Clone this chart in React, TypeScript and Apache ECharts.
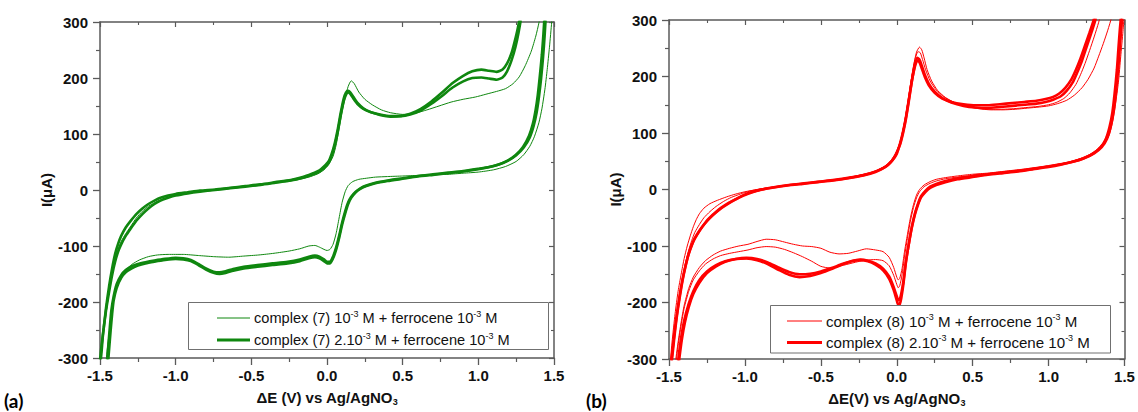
import React, { useEffect, useRef } from "react";
import * as echarts from "echarts";

type Pt = [number, number];

// ---------- tick labels ----------
const X_TICK_LABELS = ["-1.5", "-1.0", "-0.5", "0.0", "0.5", "1.0", "1.5"];
const Y_TICK_LABELS = ["-300", "-200", "-100", "0", "100", "200", "300"];

// ---------- legend / series names ----------
const A_THIN_NAME = "complex (7) 10-3 M + ferrocene 10-3 M";
const A_THICK_NAME = "complex (7) 2.10-3 M + ferrocene 10-3 M";
const B_THIN_NAME = "complex (8) 10-3 M + ferrocene 10-3 M";
const B_THICK_NAME = "complex (8) 2.10-3 M + ferrocene 10-3 M";

// ---------- panel (a) : complex (7) ----------
const A_THIN_1: Pt[] = [
  [-1.51, -360], [-1.49, -280], [-1.47, -240], [-1.45, -200], [-1.43, -165], [-1.41, -135], [-1.39, -112], [-1.36, -92],
  [-1.33, -78], [-1.30, -66], [-1.26, -50], [-1.22, -38], [-1.18, -29], [-1.12, -20], [-1.05, -13], [-1.00, -10],
  [-0.90, -5], [-0.80, -2], [-0.70, 1], [-0.60, 4], [-0.50, 7], [-0.40, 11], [-0.30, 14], [-0.20, 18], [-0.12, 23],
  [-0.06, 29], [-0.02, 36], [0.01, 45], [0.04, 60], [0.06, 80], [0.08, 110], [0.10, 140], [0.12, 165], [0.14, 185],
  [0.16, 195], [0.18, 190], [0.21, 175], [0.25, 162], [0.30, 152], [0.36, 143], [0.42, 138], [0.50, 135], [0.58, 137],
  [0.66, 143], [0.74, 150], [0.82, 157], [0.90, 162], [0.98, 166], [1.05, 171], [1.12, 176], [1.18, 181], [1.23, 190],
  [1.27, 202], [1.31, 222], [1.35, 248], [1.38, 275], [1.40, 298], [1.43, 340], [1.45, 360],
  [1.51, 360], [1.50, 340], [1.485, 300], [1.47, 255], [1.455, 215], [1.44, 180], [1.42, 145], [1.40, 120], [1.37, 95],
  [1.34, 78], [1.30, 63], [1.25, 51], [1.18, 42], [1.10, 36], [1.00, 32], [0.90, 30], [0.80, 28], [0.70, 27], [0.60, 26],
  [0.50, 25], [0.40, 24], [0.32, 23], [0.26, 21], [0.21, 19], [0.17, 15], [0.14, 8], [0.12, -3], [0.10, -22], [0.08, -50],
  [0.06, -78], [0.04, -97], [0.02, -106], [0.00, -108], [-0.02, -106], [-0.05, -102], [-0.08, -99], [-0.12, -100],
  [-0.18, -105], [-0.25, -109], [-0.35, -113], [-0.45, -116], [-0.55, -118], [-0.65, -120], [-0.75, -119], [-0.85, -117],
  [-0.95, -115], [-1.05, -115], [-1.12, -116], [-1.18, -119], [-1.24, -125], [-1.29, -133], [-1.33, -143], [-1.36, -155],
  [-1.39, -175], [-1.41, -198], [-1.43, -235], [-1.45, -280], [-1.465, -320], [-1.50, -390], [-1.51, -360],
];

const A_THICK_1: Pt[] = [
  [-1.53, -420], [-1.50, -318], [-1.49, -290], [-1.48, -258], [-1.46, -215], [-1.44, -182], [-1.42, -152], [-1.40, -128],
  [-1.38, -110], [-1.36, -97], [-1.33, -82], [-1.30, -70], [-1.26, -55], [-1.22, -43], [-1.18, -33], [-1.14, -25],
  [-1.10, -19], [-1.05, -14], [-1.00, -10], [-0.92, -6], [-0.84, -3], [-0.74, 0], [-0.64, 3], [-0.54, 6], [-0.44, 9],
  [-0.34, 13], [-0.24, 17], [-0.16, 22], [-0.10, 27], [-0.05, 33], [-0.02, 39], [0.01, 48], [0.03, 60], [0.05, 78],
  [0.07, 102], [0.09, 132], [0.11, 158], [0.125, 170], [0.14, 174], [0.155, 171], [0.175, 163], [0.20, 154], [0.24, 145],
  [0.29, 139], [0.35, 135], [0.42, 132], [0.49, 132], [0.55, 135], [0.62, 142], [0.69, 154], [0.76, 168], [0.83, 183],
  [0.90, 194], [0.96, 200], [1.02, 201], [1.07, 199], [1.12, 197], [1.16, 201], [1.19, 212], [1.22, 232], [1.245, 255],
  [1.265, 280], [1.285, 312], [1.31, 370],
  [1.46, 370], [1.448, 320], [1.438, 275], [1.428, 238], [1.415, 200], [1.40, 165], [1.385, 138], [1.365, 114], [1.34, 94],
  [1.30, 76], [1.25, 62], [1.20, 53], [1.14, 46], [1.07, 41], [1.00, 38], [0.90, 34], [0.80, 31], [0.70, 28], [0.60, 25],
  [0.50, 21], [0.40, 17], [0.32, 13], [0.26, 8], [0.22, 3], [0.19, -3], [0.16, -12], [0.14, -22], [0.12, -38], [0.10, -58],
  [0.08, -82], [0.06, -103], [0.04, -119], [0.02, -128], [0.00, -128], [-0.02, -124], [-0.05, -119], [-0.08, -117],
  [-0.12, -119], [-0.18, -124], [-0.26, -128], [-0.36, -131], [-0.46, -134], [-0.55, -137], [-0.62, -141], [-0.67, -145],
  [-0.71, -147], [-0.75, -146], [-0.80, -140], [-0.85, -132], [-0.90, -125], [-0.95, -122], [-1.00, -121], [-1.07, -123],
  [-1.14, -126], [-1.20, -129], [-1.25, -132], [-1.29, -136], [-1.33, -143], [-1.36, -152], [-1.39, -168], [-1.41, -190],
  [-1.425, -215], [-1.435, -245], [-1.445, -278], [-1.455, -310], [-1.48, -380], [-1.53, -420],
];

const A_THICK_2: Pt[] = [
  [-1.53, -400], [-1.50, -305], [-1.49, -278], [-1.475, -245], [-1.46, -210], [-1.44, -172], [-1.42, -140], [-1.40, -114],
  [-1.38, -96], [-1.36, -82], [-1.33, -67], [-1.30, -56], [-1.26, -43], [-1.22, -33], [-1.18, -25], [-1.14, -19],
  [-1.10, -14], [-1.05, -10], [-1.00, -7], [-0.92, -4], [-0.84, -1], [-0.74, 1], [-0.64, 4], [-0.54, 7], [-0.44, 10],
  [-0.34, 14], [-0.24, 18], [-0.16, 23], [-0.10, 29], [-0.05, 35], [-0.02, 42], [0.01, 51], [0.03, 64], [0.05, 82],
  [0.07, 107], [0.09, 137], [0.11, 163], [0.125, 174], [0.14, 177], [0.155, 174], [0.175, 166], [0.20, 156], [0.24, 146],
  [0.29, 139], [0.35, 134], [0.42, 131], [0.49, 132], [0.55, 136], [0.62, 145], [0.69, 158], [0.76, 174], [0.83, 191],
  [0.90, 204], [0.96, 212], [1.02, 215], [1.07, 213], [1.12, 211], [1.16, 215], [1.19, 226], [1.22, 245], [1.24, 265],
  [1.26, 288], [1.28, 318], [1.30, 370],
  [1.45, 370], [1.44, 322], [1.43, 278], [1.42, 242], [1.407, 205], [1.393, 170], [1.378, 142], [1.36, 118], [1.335, 97],
  [1.295, 77], [1.245, 62], [1.19, 52], [1.13, 45], [1.06, 40], [1.00, 37], [0.90, 33], [0.80, 30], [0.70, 27], [0.60, 24],
  [0.50, 20], [0.40, 16], [0.32, 12], [0.26, 7], [0.22, 2], [0.19, -4], [0.16, -14], [0.14, -25], [0.12, -42], [0.10, -62],
  [0.08, -86], [0.06, -107], [0.04, -122], [0.02, -131], [0.00, -131], [-0.02, -127], [-0.05, -122], [-0.08, -120],
  [-0.12, -122], [-0.18, -127], [-0.26, -131], [-0.36, -134], [-0.46, -137], [-0.55, -140], [-0.62, -144], [-0.67, -148],
  [-0.71, -150], [-0.75, -148], [-0.80, -142], [-0.85, -134], [-0.90, -127], [-0.95, -124], [-1.00, -123], [-1.07, -125],
  [-1.14, -128], [-1.20, -131], [-1.25, -135], [-1.29, -140], [-1.33, -147], [-1.36, -157], [-1.39, -175], [-1.41, -198],
  [-1.42, -222], [-1.43, -252], [-1.44, -285], [-1.45, -318], [-1.48, -390], [-1.53, -400],
];

// ---------- panel (b) : complex (8) ----------
const B_THIN_1: Pt[] = [
  [-1.52, -380], [-1.50, -330], [-1.48, -270], [-1.46, -220], [-1.44, -180], [-1.42, -150], [-1.40, -122], [-1.38, -100],
  [-1.36, -82], [-1.34, -66], [-1.32, -53], [-1.30, -43], [-1.27, -33], [-1.23, -25], [-1.18, -19], [-1.12, -13],
  [-1.06, -8], [-1.00, -4], [-0.92, 0], [-0.84, 3], [-0.74, 7], [-0.64, 10], [-0.54, 13], [-0.44, 16], [-0.34, 20],
  [-0.24, 25], [-0.16, 30], [-0.10, 37], [-0.05, 46], [-0.02, 56], [0.01, 72], [0.03, 92], [0.05, 118], [0.07, 150],
  [0.09, 185], [0.11, 218], [0.13, 243], [0.15, 252], [0.165, 247], [0.18, 233], [0.20, 212], [0.23, 192], [0.27, 175],
  [0.32, 163], [0.38, 154], [0.46, 147], [0.54, 143], [0.62, 141], [0.70, 141], [0.78, 142], [0.86, 144], [0.94, 146],
  [1.00, 148], [1.06, 152], [1.12, 158], [1.17, 167], [1.22, 180], [1.26, 195], [1.30, 215], [1.33, 236], [1.36, 258],
  [1.39, 282], [1.415, 305], [1.44, 345],
  [1.51, 345], [1.50, 315], [1.49, 280], [1.475, 235], [1.46, 190], [1.44, 150], [1.42, 118], [1.40, 97], [1.37, 82],
  [1.33, 70], [1.28, 61], [1.22, 54], [1.15, 49], [1.07, 45], [1.00, 42], [0.90, 38], [0.80, 35], [0.70, 32], [0.60, 29],
  [0.50, 27], [0.40, 24], [0.32, 21], [0.26, 18], [0.22, 14], [0.18, 8], [0.15, 0], [0.13, -10], [0.11, -27], [0.09, -50],
  [0.07, -80], [0.05, -112], [0.035, -140], [0.02, -157], [0.01, -160], [0.00, -155], [-0.02, -138], [-0.05, -120],
  [-0.09, -110], [-0.14, -107], [-0.20, -105], [-0.26, -109], [-0.32, -113], [-0.38, -114], [-0.44, -111], [-0.50, -104],
  [-0.56, -101], [-0.62, -100], [-0.68, -97], [-0.74, -93], [-0.80, -89], [-0.86, -88], [-0.92, -92], [-0.98, -97],
  [-1.04, -100], [-1.10, -104], [-1.16, -109], [-1.21, -116], [-1.26, -126], [-1.30, -138], [-1.34, -155], [-1.37, -175],
  [-1.40, -205], [-1.42, -235], [-1.44, -270], [-1.46, -310], [-1.49, -370], [-1.52, -380],
];

const B_THIN_2: Pt[] = [
  [-1.52, -390], [-1.49, -310], [-1.47, -262], [-1.45, -222], [-1.43, -186], [-1.41, -155], [-1.39, -128], [-1.37, -107],
  [-1.35, -90], [-1.33, -76], [-1.30, -62], [-1.27, -50], [-1.23, -39], [-1.19, -30], [-1.14, -21], [-1.09, -14],
  [-1.03, -8], [-0.97, -3], [-0.90, 1], [-0.82, 4], [-0.72, 8], [-0.62, 11], [-0.52, 14], [-0.42, 17], [-0.32, 21],
  [-0.22, 27], [-0.14, 33], [-0.08, 41], [-0.04, 51], [-0.01, 63], [0.02, 82], [0.04, 104], [0.06, 132], [0.08, 166],
  [0.10, 202], [0.12, 230], [0.14, 244], [0.155, 242], [0.17, 230], [0.19, 212], [0.22, 192], [0.26, 176], [0.31, 164],
  [0.37, 155], [0.45, 148], [0.53, 144], [0.61, 142], [0.69, 142], [0.77, 143], [0.85, 145], [0.93, 147], [1.00, 150],
  [1.05, 154], [1.10, 161], [1.14, 171], [1.18, 186], [1.21, 203], [1.24, 223], [1.27, 246], [1.30, 270], [1.33, 296],
  [1.35, 318], [1.37, 345],
  [1.50, 345], [1.49, 312], [1.48, 280], [1.465, 238], [1.45, 195], [1.435, 158], [1.415, 125], [1.39, 100], [1.36, 83],
  [1.32, 71], [1.27, 62], [1.21, 55], [1.14, 49], [1.06, 44], [1.00, 41], [0.90, 37], [0.80, 34], [0.70, 31], [0.60, 28],
  [0.50, 25], [0.40, 22], [0.32, 19], [0.26, 15], [0.22, 11], [0.18, 5], [0.15, -4], [0.13, -15], [0.11, -32], [0.09, -56],
  [0.07, -87], [0.05, -121], [0.035, -151], [0.02, -170], [0.01, -174], [0.00, -168], [-0.02, -152], [-0.05, -135],
  [-0.09, -126], [-0.14, -124], [-0.20, -125], [-0.26, -128], [-0.32, -132], [-0.38, -136], [-0.44, -139], [-0.50, -136],
  [-0.56, -127], [-0.62, -119], [-0.68, -112], [-0.74, -106], [-0.80, -102], [-0.86, -101], [-0.92, -103], [-0.98, -107],
  [-1.04, -110], [-1.10, -113], [-1.16, -117], [-1.21, -123], [-1.26, -132], [-1.30, -144], [-1.34, -160], [-1.37, -180],
  [-1.40, -210], [-1.42, -240], [-1.44, -276], [-1.455, -310], [-1.48, -370], [-1.52, -390],
];

const B_THICK_1: Pt[] = [
  [-1.52, -400], [-1.49, -318], [-1.475, -280], [-1.46, -245], [-1.44, -205], [-1.42, -172], [-1.40, -145], [-1.38, -123],
  [-1.36, -105], [-1.34, -92], [-1.31, -78], [-1.28, -66], [-1.25, -56], [-1.21, -45], [-1.17, -36], [-1.12, -27],
  [-1.07, -19], [-1.02, -12], [-0.96, -6], [-0.90, -1], [-0.82, 3], [-0.72, 7], [-0.62, 10], [-0.52, 13], [-0.42, 16],
  [-0.32, 20], [-0.22, 25], [-0.14, 31], [-0.08, 39], [-0.04, 48], [-0.01, 60], [0.02, 78], [0.04, 98], [0.06, 124],
  [0.08, 157], [0.10, 192], [0.12, 221], [0.135, 233], [0.15, 230], [0.165, 219], [0.185, 203], [0.21, 188], [0.25, 173],
  [0.30, 162], [0.36, 154], [0.44, 148], [0.52, 145], [0.60, 144], [0.68, 146], [0.76, 148], [0.84, 150], [0.92, 152],
  [0.98, 155], [1.03, 159], [1.08, 165], [1.12, 175], [1.16, 190], [1.19, 208], [1.22, 228], [1.25, 252], [1.28, 276],
  [1.31, 302], [1.33, 345],
  [1.50, 345], [1.49, 318], [1.48, 290], [1.47, 255], [1.46, 218], [1.445, 175], [1.43, 140], [1.41, 112], [1.385, 90],
  [1.35, 75], [1.30, 64], [1.24, 56], [1.17, 50], [1.09, 45], [1.00, 41], [0.90, 37], [0.80, 33], [0.70, 30], [0.60, 27],
  [0.50, 24], [0.40, 20], [0.32, 15], [0.26, 10], [0.22, 5], [0.19, -2], [0.16, -12], [0.14, -25], [0.12, -42], [0.10, -65],
  [0.08, -95], [0.06, -130], [0.045, -165], [0.03, -192], [0.02, -203], [0.01, -204], [0.00, -196], [-0.02, -178],
  [-0.05, -158], [-0.09, -143], [-0.14, -133], [-0.19, -127], [-0.24, -125], [-0.30, -127], [-0.36, -132], [-0.43, -139],
  [-0.50, -145], [-0.57, -149], [-0.64, -150], [-0.71, -146], [-0.78, -138], [-0.85, -129], [-0.92, -123], [-0.99, -121],
  [-1.06, -123], [-1.13, -128], [-1.19, -136], [-1.25, -148], [-1.30, -165], [-1.34, -185], [-1.37, -208], [-1.395, -235],
  [-1.415, -265], [-1.43, -295], [-1.445, -330], [-1.47, -380], [-1.52, -400],
];

const B_THICK_2: Pt[] = [
  [-1.52, -390], [-1.48, -300], [-1.465, -262], [-1.45, -228], [-1.43, -192], [-1.41, -160], [-1.39, -135], [-1.37, -114],
  [-1.35, -99], [-1.33, -86], [-1.30, -73], [-1.27, -62], [-1.24, -52], [-1.20, -42], [-1.16, -33], [-1.11, -24],
  [-1.06, -17], [-1.01, -10], [-0.95, -4], [-0.89, 0], [-0.81, 4], [-0.71, 8], [-0.61, 11], [-0.51, 14], [-0.41, 17],
  [-0.31, 21], [-0.21, 26], [-0.13, 33], [-0.07, 41], [-0.03, 51], [0.00, 63], [0.02, 80], [0.04, 101], [0.06, 127],
  [0.08, 160], [0.10, 193], [0.12, 218], [0.135, 228], [0.15, 225], [0.165, 214], [0.185, 199], [0.21, 185], [0.25, 171],
  [0.30, 161], [0.36, 155], [0.44, 151], [0.52, 149], [0.60, 149], [0.68, 151], [0.76, 153], [0.84, 155], [0.92, 157],
  [0.98, 160], [1.03, 164], [1.07, 170], [1.11, 180], [1.15, 195], [1.18, 212], [1.21, 232], [1.24, 255], [1.27, 278],
  [1.30, 303], [1.32, 345],
  [1.49, 345], [1.48, 315], [1.47, 285], [1.46, 250], [1.45, 212], [1.435, 170], [1.42, 136], [1.40, 109], [1.375, 88],
  [1.34, 74], [1.29, 63], [1.23, 55], [1.16, 49], [1.08, 44], [1.00, 40], [0.90, 36], [0.80, 32], [0.70, 29], [0.60, 26],
  [0.50, 22], [0.40, 18], [0.32, 13], [0.26, 8], [0.22, 3], [0.19, -4], [0.16, -14], [0.14, -27], [0.12, -44], [0.10, -67],
  [0.08, -96], [0.06, -128], [0.045, -160], [0.03, -184], [0.02, -194], [0.01, -196], [0.00, -189], [-0.02, -173],
  [-0.05, -154], [-0.09, -140], [-0.14, -131], [-0.19, -126], [-0.24, -124], [-0.30, -127], [-0.36, -133], [-0.43, -141],
  [-0.50, -148], [-0.57, -153], [-0.64, -155], [-0.71, -151], [-0.78, -142], [-0.85, -132], [-0.92, -125], [-0.99, -122],
  [-1.06, -123], [-1.13, -127], [-1.19, -134], [-1.25, -145], [-1.30, -160], [-1.34, -180], [-1.37, -202], [-1.40, -232],
  [-1.42, -262], [-1.435, -292], [-1.45, -325], [-1.48, -380], [-1.52, -390],
];

// ---------- styling ----------
const GREEN = "#0f870f";
const RED = "#ff0000";
const AXIS_COLOR = "#5a5a5a";
const FONT = "Liberation Sans";
const TEXT = "#111";
const THIN_W = 1;
const THICK_W = 2.6;

const RICH_NAMES: Record<string, string> = {
  [A_THIN_NAME]: "{t|complex (7) 10}{s|-3}{t| M + ferrocene 10}{s|-3}{t| M}",
  [A_THICK_NAME]: "{t|complex (7) 2.10}{s|-3}{t| M + ferrocene 10}{s|-3}{t| M}",
  [B_THIN_NAME]: "{t|complex (8) 10}{s|-3}{t| M + ferrocene 10}{s|-3}{t| M}",
  [B_THICK_NAME]: "{t|complex (8) 2.10}{s|-3}{t| M + ferrocene 10}{s|-3}{t| M}",
};

function xAxes(grid: number, name: string) {
  const line = { show: true, onZero: false, lineStyle: { color: AXIS_COLOR, width: 1.5 } };
  const base = { type: "value", gridIndex: grid, min: -1.5, max: 1.5, interval: 0.5, splitLine: { show: false } };
  return [
    {
      ...base,
      position: "bottom",
      axisLine: line,
      axisTick: { show: true, inside: false, length: 7, lineStyle: { color: AXIS_COLOR, width: 1.3 } },
      minorTick: { show: true, splitNumber: 2, length: 4, lineStyle: { color: AXIS_COLOR, width: 1.2 } },
      axisLabel: {
        margin: 10,
        color: TEXT,
        fontFamily: FONT,
        fontWeight: "bold",
        fontSize: 15,
        formatter: (v: number) => X_TICK_LABELS[Math.round((v + 1.5) / 0.5)],
      },
      name,
      nameLocation: "middle",
      nameGap: 30,
      nameTextStyle: {
        rich: {
          t: { fontFamily: FONT, fontWeight: "bold", fontSize: 15, color: TEXT, lineHeight: 18 },
          s: { fontFamily: FONT, fontWeight: "bold", fontSize: 9, color: TEXT, verticalAlign: "bottom" },
        },
      },
    },
    {
      ...base,
      position: "top",
      axisLine: line,
      axisTick: { show: true, inside: true, length: 5, lineStyle: { color: AXIS_COLOR, width: 1.2 } },
      minorTick: { show: true, splitNumber: 2, length: 3, lineStyle: { color: AXIS_COLOR, width: 1.1 } },
      axisLabel: { show: false },
    },
  ];
}

function yAxes(grid: number) {
  const line = { show: true, onZero: false, lineStyle: { color: AXIS_COLOR, width: 1.5 } };
  const base = { type: "value", gridIndex: grid, min: -300, max: 300, interval: 100, splitLine: { show: false } };
  return [
    {
      ...base,
      position: "left",
      axisLine: line,
      axisTick: { show: true, inside: false, length: 7, lineStyle: { color: AXIS_COLOR, width: 1.3 } },
      minorTick: { show: true, splitNumber: 2, length: 4, lineStyle: { color: AXIS_COLOR, width: 1.2 } },
      axisLabel: {
        margin: 12,
        color: TEXT,
        fontFamily: FONT,
        fontWeight: "bold",
        fontSize: 15,
        formatter: (v: number) => Y_TICK_LABELS[Math.round((v + 300) / 100)],
      },
      name: "I(μA)",
      nameLocation: "middle",
      nameGap: 41,
      nameTextStyle: { fontFamily: FONT, fontWeight: "bold", fontSize: 15, color: TEXT },
    },
    {
      ...base,
      position: "right",
      axisLine: line,
      axisTick: { show: true, inside: true, length: 5, lineStyle: { color: AXIS_COLOR, width: 1.2 } },
      minorTick: { show: true, splitNumber: 2, length: 3, lineStyle: { color: AXIS_COLOR, width: 1.1 } },
      axisLabel: { show: false },
    },
  ];
}

function trace(name: string, data: Pt[], color: string, width: number, axis: number) {
  return {
    type: "line",
    name,
    data,
    xAxisIndex: axis,
    yAxisIndex: axis,
    symbol: "none",
    showSymbol: false,
    smooth: 0.2,
    clip: true,
    silent: true,
    z: 2,
    lineStyle: { color, width },
    itemStyle: { color },
  };
}

// legend drawn as graphic: a framed box, line samples and rich text
function legendBox(
  box: { x: number; y: number; w: number; h: number },
  lineX0: number,
  lineX1: number,
  textX: number,
  rows: number[],
  names: string[],
  color: string,
  fontSize: number
) {
  const rich = {
    t: { fontFamily: FONT, fontSize, fill: TEXT, lineHeight: 18 },
    s: { fontFamily: FONT, fontSize: 9, fill: TEXT, verticalAlign: "top" },
  };
  const els: any[] = [
    {
      type: "rect",
      z: 3,
      shape: { x: box.x, y: box.y, width: box.w, height: box.h },
      style: { fill: "#ffffff", stroke: "#707070", lineWidth: 1 },
    },
  ];
  names.forEach((n, i) => {
    els.push({
      type: "line",
      z: 4,
      shape: { x1: lineX0, y1: rows[i], x2: lineX1, y2: rows[i] },
      style: { stroke: color, lineWidth: i === 0 ? THIN_W : 3 },
    });
    els.push({
      type: "text",
      z: 4,
      x: textX,
      y: rows[i],
      style: {
        text: RICH_NAMES[n],
        rich,
        fontFamily: FONT,
        fontSize,
        fill: TEXT,
        align: "left",
        verticalAlign: "middle",
      },
    });
  });
  return els;
}

function buildOption() {
  return {
    animation: false,
    backgroundColor: "#ffffff",
    grid: [
      { left: 100, right: 584, top: 22, bottom: 54, containLabel: false },
      { left: 669, right: 13.5, top: 20, bottom: 53, containLabel: false },
    ],
    xAxis: [
      ...xAxes(0, "{t|ΔE (V) vs Ag/AgNO}{s|3}"),
      ...xAxes(1, "{t|ΔE(V) vs Ag/AgNO}{s|3}"),
    ],
    yAxis: [...yAxes(0), ...yAxes(1)],
    graphic: [
      ...legendBox({ x: 188.5, y: 302.5, w: 360, h: 47 }, 217, 250, 254, [318, 340], [A_THIN_NAME, A_THICK_NAME], GREEN, 14.6),
      ...legendBox({ x: 770.5, y: 305.5, w: 340, h: 47.5 }, 787, 822, 826, [321, 342.5], [B_THIN_NAME, B_THICK_NAME], RED, 15.1),
      {
        type: "text",
        left: 4,
        top: 391,
        style: { text: "(a)", fontFamily: "Lato", fontWeight: "bold", fontSize: 19, fill: "#000" },
      },
      {
        type: "text",
        left: 586,
        top: 391,
        style: { text: "(b)", fontFamily: "Lato", fontWeight: "bold", fontSize: 19, fill: "#000" },
      },
    ],
    series: [
      trace(A_THIN_NAME, A_THIN_1, GREEN, THIN_W, 0),
      trace(A_THICK_NAME, A_THICK_1, GREEN, THICK_W, 0),
      trace(A_THICK_NAME, A_THICK_2, GREEN, THICK_W, 0),
      trace(B_THIN_NAME, B_THIN_1, RED, THIN_W, 2),
      trace(B_THIN_NAME, B_THIN_2, RED, THIN_W, 2),
      trace(B_THICK_NAME, B_THICK_1, RED, THICK_W, 2),
      trace(B_THICK_NAME, B_THICK_2, RED, THICK_W, 2),
    ],
  };
}

export default function App() {
  const ref = useRef<HTMLDivElement>(null);
  useEffect(() => {
    document.body.style.margin = "0";
    if (!ref.current) return;
    const chart = echarts.init(ref.current, null, { renderer: "svg" });
    chart.setOption(buildOption() as any);
    return () => chart.dispose();
  }, []);
  return <div ref={ref} style={{ width: 1138, height: 412, background: "#fff" }} />;
}
